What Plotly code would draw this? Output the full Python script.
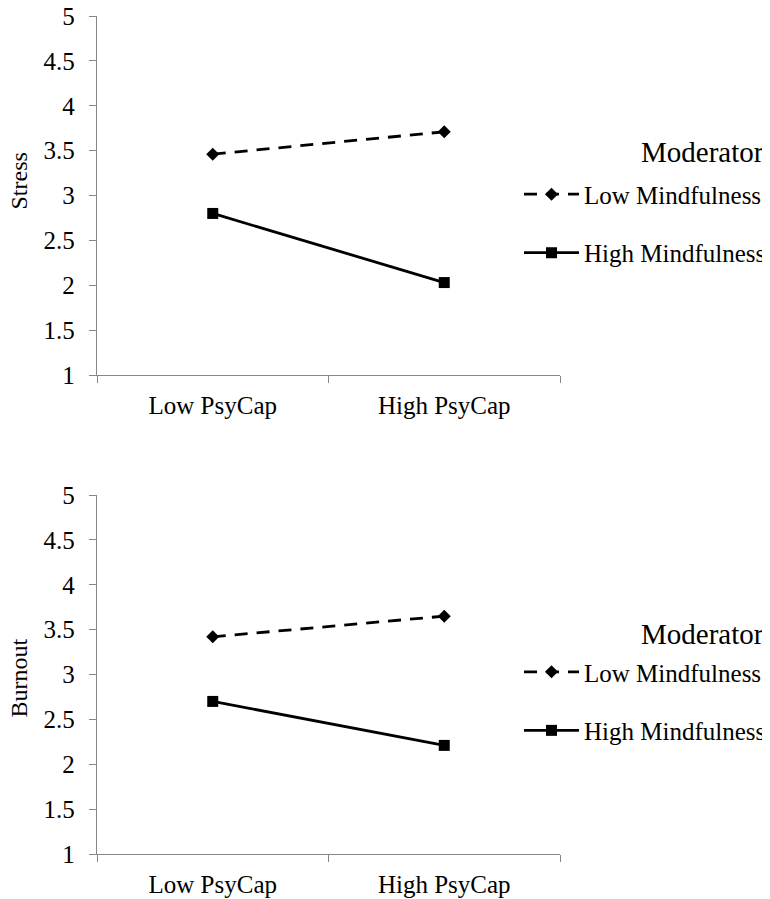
import plotly.graph_objects as go

categories = ["Low PsyCap", "High PsyCap"]
stress_low_mind = [3.46, 3.71]
stress_high_mind = [2.80, 2.03]
burnout_low_mind = [3.42, 3.65]
burnout_high_mind = [2.70, 2.21]
y_ticks = [1, 1.5, 2, 2.5, 3, 3.5, 4, 4.5, 5]
y_labels = ["1", "1.5", "2", "2.5", "3", "3.5", "4", "4.5", "5"]

FONT = "Liberation Serif"
AX = "#878787"

fig = go.Figure()

def add_pair(low, high, xa, ya, leg):
    fig.add_trace(go.Scatter(
        x=categories, y=low, xaxis=xa, yaxis=ya, mode="lines+markers",
        name="Low Mindfulness", legend=leg, legendgroup=leg + "a",
        line=dict(color="black", width=2.8, dash="13px,9px"),
        marker=dict(symbol="diamond", size=10, color="black"),
    ))
    fig.add_trace(go.Scatter(
        x=categories, y=high, xaxis=xa, yaxis=ya, mode="lines+markers",
        name="High Mindfulness", legend=leg, legendgroup=leg + "b",
        line=dict(color="black", width=2.8),
        marker=dict(symbol="square", size=11, color="black"),
    ))

add_pair(stress_low_mind, stress_high_mind, "x", "y", "legend")
add_pair(burnout_low_mind, burnout_high_mind, "x2", "y2", "legend2")

xcommon = dict(
    type="category", range=[-0.5, 1.5], tickson="boundaries",
    showline=True, linecolor=AX, linewidth=1.3, ticks="outside", ticklen=7,
    tickcolor=AX, tickwidth=1.3, showgrid=False, zeroline=False,
    tickfont=dict(family=FONT, size=25, color="black"), ticklabelstandoff=8,
    ticklabeloverflow="allow",
)
ycommon = dict(
    range=[1, 5], tickvals=y_ticks, ticktext=y_labels,
    showline=True, linecolor=AX, linewidth=1.3, ticks="outside", ticklen=7,
    tickcolor=AX, tickwidth=1.3, showgrid=False, zeroline=False,
    tickfont=dict(family=FONT, size=25, color="black"), ticklabelstandoff=9,
    ticklabeloverflow="allow",
)

legcommon = dict(
    font=dict(family=FONT, size=25, color="black"),
    bgcolor="rgba(0,0,0,0)", itemwidth=55, tracegroupgap=23,
    xanchor="left", yanchor="top", x=0.9115,
)

def ann(text, x, y, size, angle=0, xanchor="center"):
    return dict(text=text, xref="paper", yref="paper", x=x, y=y,
                textangle=angle, showarrow=False, xanchor=xanchor,
                yanchor="middle", font=dict(family=FONT, size=size, color="black"))

fig.update_layout(
    width=762, height=891,
    margin=dict(l=89, r=210, t=8, b=45, autoexpand=False),
    paper_bgcolor="white", plot_bgcolor="white",
    font=dict(family=FONT, color="black"),
    xaxis=dict(domain=[0, 1], anchor="y", **xcommon),
    yaxis=dict(domain=[0.5716, 1], anchor="x", **ycommon),
    xaxis2=dict(domain=[0, 1], anchor="y2", **xcommon),
    yaxis2=dict(domain=[0, 0.4284], anchor="x2", **ycommon),
    legend=dict(y=0.8145, **legcommon),
    legend2=dict(y=0.2445, **legcommon),
    annotations=[
        ann("Stress", -0.1675, 0.803, 24, -90),
        ann("Burnout", -0.1675, 0.21, 24, -90),
        ann("Moderator", 1.4445, 0.8377, 29, 0, "right"),
        ann("Moderator", 1.4445, 0.2625, 29, 0, "right"),
    ],
)

fig.write_html("out.html")
